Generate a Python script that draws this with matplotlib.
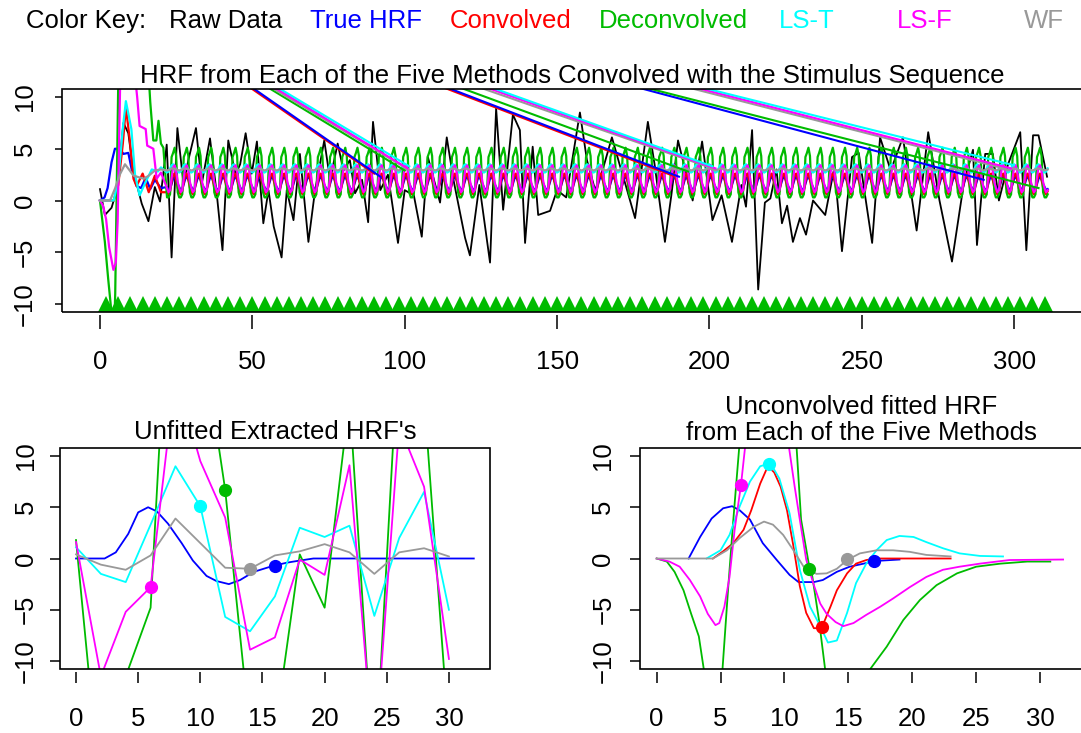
import numpy as np
import matplotlib.pyplot as plt
from matplotlib.patches import Rectangle

plt.rcParams['font.family'] = ['Liberation Sans', 'DejaVu Sans']

FS = 18.5
BLUE, RED, GREEN, CYAN, MAGENTA, GRAY = '#0000FF', '#FF0000', '#00BB00', '#00FFFF', '#FF00FF', '#999999'

# ---- top panel: raw data ----
raw_t = [0, 1.6, 3.8, 5.5, 7.7, 9.3, 10.9, 13.7, 15.9, 18.0,
         19.7, 21.9, 23.5, 25.4, 27.4, 29.0, 31.5, 33.4, 36.1, 38.3,
         40.2, 42.1, 44.5, 46.0, 47.8, 49.8, 51.5, 53.6, 55.3, 57.0,
         59.6, 61.3, 63.5, 65.6, 68.4, 70.5, 73.6, 75.5, 78.0, 79.9,
         82.0, 83.7, 86.0, 88.0, 89.6, 92.0, 94.5, 97.8, 100.0, 103.0,
         105.6, 107.6, 111.6, 113.8, 116.0, 119.8, 121.4, 124.5, 128.0, 130.0,
         132.3, 135.5, 137.8, 139.5, 142.0, 143.8, 147.7, 150.0, 153.0, 157.5,
         159.8, 162.5, 165.0, 168.0, 170.5, 172.5, 175.6, 177.5, 179.8, 182.0,
         185.4, 187.5, 189.7, 192.0, 194.5, 197.6, 201.0, 204.0, 207.4, 210.5,
         212.0, 214.0, 216.0, 218.2, 220.0, 222.0, 223.8, 225.5, 227.4, 229.7,
         231.7, 234.0, 238.0, 241.0, 243.5, 246.8, 249.0, 253.4, 256.0, 259.5,
         263.5, 268.0, 271.8, 275.5, 279.6, 283.5, 286.5, 287.8, 290.5, 293.0,
         295.0, 298.0, 302.0, 304.0, 306.2, 308.0, 310.8]
raw_y = [1.1, -1.4, -0.7, 1.0, 7.5, 6.5, 2.9, -0.3, -2.0, 1.3,
         -0.1, 5.4, -5.5, 7.0, 1.6, 3.9, 7.0, 1.6, 6.0, 0.7,
         -4.8, 5.8, 2.5, 3.5, 6.5, 2.6, 5.7, -2.2, 1.0, -2.5,
         -5.5, 1.0, -1.9, 4.5, -4.0, 0.8, 5.8, 2.0, 5.5, 2.9,
         3.9, 0.7, 2.0, -2.1, 7.6, 1.0, 2.5, -4.1, 1.0, 0.5,
         -3.5, 4.2, -0.2, 6.1, 2.0, -3.6, -5.3, 1.5, -6.0, 8.9,
         -0.9, 8.3, 6.8, -4.1, 5.2, -1.4, -1.0, 1.0, 0.3, 8.5,
         3.9, 1.0, 3.0, 6.1, 3.5, 1.5, -1.7, 2.5, 7.6, 3.5,
         -4.0, 0.5, 5.8, 3.0, 0.0, 5.7, -1.9, 0.5, -4.0, 1.5,
         -0.6, 6.8, -8.6, -0.2, 0.2, 3.0, -2.2, -0.5, -4.0, -1.7,
         -3.3, 0.0, -1.4, 3.2, -4.9, 4.2, 4.6, -4.1, 6.1, 2.9,
         6.1, -2.9, 6.6, 0.0, -5.9, 1.7, 4.9, -4.3, 4.5, 4.5,
         0.0, 3.5, 6.6, -4.8, 6.3, 6.3, 2.3]

# stimulus onsets (green triangles)
stim_onsets = [2, 6, 10, 14, 18, 22, 26, 30, 34, 38, 42, 46, 50, 54, 58, 62,
               66, 70, 74, 78, 82, 86, 90, 94, 98, 102, 106, 110, 114, 118,
               122, 126, 130, 134, 138, 142, 146, 150, 154, 158, 162, 166,
               170, 174, 178, 182, 186, 190, 194, 198, 202, 206, 210, 214,
               218, 222, 226, 230, 234, 238, 242, 246, 250, 254, 258, 262,
               266, 270, 274, 278, 282, 286, 290, 294, 298, 302, 306, 310]

# convolved series: start-up transient, then one response per stimulus
true_start_t = [0, 1.5, 2.5, 3.8, 4.9, 6.5, 7.7, 9.3, 10.4, 12.0, 13.5, 15.0, 16.5, 18.0, 20.0]
true_start_y = [0, 0.3, 1.2, 3.7, 5.0, 5.0, 4.5, 4.6, 3.0, 1.4, 1.2, 2.2, 1.1, 2.0, 1.2]
conv_start_t = [0, 4.5, 6.0, 7.5, 8.5, 9.8, 11.0, 12.0, 14.0, 16.0, 18.0, 20.0]
conv_start_y = [0, 0, 1.5, 5.5, 9.0, 5.8, 2.1, 1.4, 2.6, 0.8, 2.4, 0.8]
deconv_start_t = [0, 1.6, 2.7, 3.8, 4.3, 4.8, 5.0, 6.0, 7.0, 12.0, 16.0, 16.5, 17.5, 18.5, 19.2, 20.0, 20.8]
deconv_start_y = [0, -4.0, -7.6, -10.9, -13.0, -11.0, -9.0, 11.5, 16.0, 18.0, 12.0, 9.5, 5.8, 5.8, 7.7, 5.5, 5.1]
lst_start_t = [0, 4.5, 6.0, 7.5, 8.5, 10.3, 11.5, 13.0, 15.0, 17.0, 19.0, 20.0]
lst_start_y = [0, 0, 2.0, 7.0, 9.6, 6.9, 2.5, 0.5, 1.8, 3.0, 2.8, 3.2]
lsf_start_t = [0, 1.0, 2.0, 3.0, 4.4, 5.2, 5.8, 6.6, 8.0, 10.0, 11.5, 12.2, 13.0, 15.0, 15.5, 17.5, 18.6, 20.0]
lsf_start_y = [0, -0.5, -1.8, -4.5, -6.7, -6.0, -2.0, 11.0, 15.0, 15.0, 12.0, 10.0, 7.2, 6.9, 5.3, 5.0, 2.1, 2.7]
wf_start_t = [0, 3.3, 5.0, 6.5, 8.2, 9.5, 11.0, 14.4, 16.0, 18.0, 20.0]
wf_start_y = [0, 0, 1.2, 2.5, 3.5, 3.0, 2.4, 2.1, 2.4, 2.9, 3.0]

cycle_phase = [0, 0.5, 1.0, 1.5, 2.0, 2.5, 3.0, 3.5]
true_cycle = [1.3, 1.0, 1.1, 1.6, 2.1, 2.3, 2.0, 1.6]
conv_cycle = [0.8, 0.6, 0.9, 1.8, 2.5, 2.6, 2.0, 1.2]
deconv_cycle = [0.3, 0.3, 0.6, 4.2, 4.6, 5.1, 4.3, 0.8]
lst_cycle = [2.7, 2.8, 3.1, 3.4, 3.5, 3.3, 3.0, 2.8]
lsf_cycle = [1.2, 0.8, 1.0, 2.2, 3.2, 3.4, 2.8, 1.8]
wf_cycle = [2.9, 2.95, 3.0, 3.1, 3.1, 3.05, 3.0, 2.95]
band_end = 311

# stray straight segments: where each crosses the top edge, and where it lands
true_wrap_cross, true_wrap_end_t, true_wrap_end_y = [50.5, 114.9, 178.0], [92, 190, 290], [2.3, 2.3, 2.0]
conv_wrap_cross, conv_wrap_end_t, conv_wrap_end_y = [49.8, 113.8], [90, 188], [2.6, 2.4]
deconv_wrap_cross, deconv_wrap_end_t, deconv_wrap_end_y = [55.8, 119.2, 180.5], [100, 193, 308], [2.9, 2.8, 1.2]
lst_wrap_cross, lst_wrap_end_t, lst_wrap_end_y = [59.0, 129.6, 199.2], [101.5, 201, 300], [3.3, 3.3, 3.4]
lsf_wrap_cross, lsf_wrap_end_t, lsf_wrap_end_y = [57.9, 128.0, 197.0], [101, 202, 299], [3.1, 3.1, 3.1]
wf_wrap_cross, wf_wrap_end_t, wf_wrap_end_y = [56.9, 125.8, 194.6], [100, 202, 298], [3.2, 3.0, 3.0]

# ---- bottom left: unfitted extracted HRFs ----
unf_t = [0, 2, 4, 6, 8, 10, 12, 14, 16, 18, 20, 22, 24, 26, 28, 30]
unf_deconv = [1.8, -23.4, -11.5, -4.8, 40, 23, 6.7, -17, -17, 0.4, -4.8, 15.6, -22, 22, 15.8, -17.4]
unf_lst = [1.1, -1.5, -2.3, 3.3, 9.0, 5.1, -5.7, -7.1, -3.7, 3.0, 2.1, 3.2, -5.6, 2.0, 6.5, -5.0]
unf_lsf = [1.6, -11.5, -5.2, -2.8, 18, 9.5, 4.0, -8.9, -7.7, -0.1, -1.6, 9.1, -20, 13, 7.0, -9.8]
unf_wf = [0.4, -0.6, -1.1, 0.3, 3.9, 1.5, -0.9, -1.0, 0.3, 0.7, 1.4, 0.6, -1.5, 0.6, 1.0, 0.2]
true_t = [0, 2.3, 3.2, 4.2, 5.0, 5.8, 6.5, 7.4, 8.5, 9.4, 10.5, 11.3, 12.3, 13.2, 14.3, 15.9, 17.0, 18.0, 19.1, 32]
true_y = [0, 0, 0.6, 2.4, 4.5, 5.0, 4.6, 3.4, 1.5, -0.2, -1.7, -2.2, -2.5, -2.1, -1.3, -0.7, -0.4, -0.2, 0, 0]
# marked points (t, y) per method
unf_mark_true = (16, -0.7)
unf_mark_deconv = (12, 6.7)
unf_mark_lst = (10, 5.1)
unf_mark_lsf = (6, -2.8)
unf_mark_wf = (14, -1.0)

# ---- bottom right: fitted HRFs ----
fit_true_t = [2.5, 3.4, 4.3, 5.2, 5.9, 6.5, 7.3, 8.3, 9.4, 10.4, 11.1, 12.3, 13.0, 14.1, 15.1, 16.2, 17.0, 19.0]
fit_true_y = [0, 2.1, 3.9, 4.9, 5.1, 4.7, 3.8, 1.5, -0.15, -1.6, -2.3, -2.3, -2.1, -1.3, -0.8, -0.5, -0.25, -0.1]
fit_conv_t = [4.4, 5.2, 6.0, 6.8, 7.4, 8.1, 8.7, 9.2, 9.7, 10.2, 10.7, 11.2, 11.7, 12.3, 12.9, 13.6, 14.1, 14.9, 15.6, 16.4, 17.2, 23.0]
fit_conv_y = [0, 0.7, 1.5, 2.8, 4.7, 7.3, 9.0, 8.4, 7.0, 4.7, 1.2, -2.7, -5.3, -6.8, -6.8, -4.7, -3.1, -1.45, -0.5, -0.15, 0, 0]
fit_deconv_t = [0, 0.8, 1.4, 2.1, 2.7, 3.3, 3.7, 4.4, 5.0, 5.6, 6.0, 6.6, 7.5, 8.5, 9.5, 10.5, 10.9,
                11.3, 11.9, 12.1, 12.7, 13.2, 14.2, 15.2, 16.3, 16.7, 18.0, 19.3, 20.6, 21.9, 23.5,
                25.0, 26.9, 29.0, 30.8]
fit_deconv_y = [0, -0.3, -1.3, -3.1, -5.4, -7.6, -10.9, -15.5, -13.5, -2.8, 3.8, 13, 22, 25, 22, 15, 11.8,
                3.8, -0.5, -1.1, -6.0, -11.0, -17, -16, -12, -10.8, -8.6, -6.0, -4.05, -2.6, -1.45,
                -0.8, -0.5, -0.3, -0.3]
fit_lst_t = [3.9, 5.0, 5.7, 6.5, 7.3, 8.1, 8.9, 9.6, 10.4, 11.2, 12.0, 12.8, 13.4, 14.1, 14.9, 15.6,
             16.4, 17.2, 18.0, 19.0, 20.1, 21.1, 22.4, 23.7, 25.3, 27.1]
fit_lst_y = [0, 0.8, 2.3, 5.1, 7.5, 9.0, 9.3, 7.8, 4.4, -1.1, -4.7, -6.6, -8.2, -8.0, -5.3, -2.4,
             -0.5, 0.8, 1.8, 2.2, 2.1, 1.6, 1.0, 0.5, 0.25, 0.2]
fit_lsf_t = [0, 1.0, 1.8, 2.6, 3.4, 4.0, 4.6, 4.9, 5.3, 5.7, 6.1, 6.6, 7.0, 7.5, 8.5, 9.5, 10.3, 10.8,
             11.2, 11.7, 12.3, 12.8, 13.3, 14.0, 14.6, 15.4, 16.4, 17.5, 18.5, 19.8, 21.1, 22.4,
             23.7, 25.3, 27.6, 31.8]
fit_lsf_y = [0, -0.3, -0.8, -2.1, -3.7, -5.4, -6.5, -6.3, -4.7, -1.8, 2.8, 7.2, 11.8, 15.5, 19.0, 16.5,
             11.3, 7.0, 3.8, -0.1, -2.6, -4.4, -5.4, -6.2, -6.6, -6.3, -5.5, -4.7, -3.9, -2.8, -1.8,
             -1.1, -0.8, -0.5, -0.15, -0.1]
fit_wf_t = [0, 4.4, 5.5, 6.5, 7.6, 8.4, 9.1, 9.9, 10.7, 11.5, 12.5, 13.3, 14.1, 14.9, 15.9, 17.2, 18.5, 19.8, 21.1, 23.0]
fit_wf_y = [0, 0, 0.8, 2.0, 3.1, 3.6, 3.3, 2.3, 0.8, -0.8, -1.5, -1.45, -1.0, -0.15, 0.5, 0.8, 0.8, 0.65, 0.35, 0.2]
fit_mark_true = (17.0, -0.25)
fit_mark_conv = (12.9, -6.7)
fit_mark_deconv = (11.95, -1.05)
fit_mark_lst = (8.8, 9.2)
fit_mark_lsf = (6.6, 7.2)
fit_mark_wf = (14.9, 0.0)

key_labels = ['Color Key:', 'Raw Data', 'True HRF', 'Convolved', 'Deconvolved', 'LS-T', 'LS-F', 'WF']
key_colors = ['black', 'black', BLUE, RED, GREEN, CYAN, MAGENTA, GRAY]
key_x = [26, 169, 310, 450, 599, 779, 897, 1024]


def band(start_t, start_y, cycle):
    t, y = list(start_t), list(start_y)
    for onset in stim_onsets:
        if onset <= start_t[-1]:
            continue
        for p, v in zip(cycle_phase, cycle):
            if onset + p <= band_end:
                t.append(onset + p)
                y.append(v)
    return t, y


def draw_wraps(ax, cross, end_t, end_y, color, top=10.8, start=14.0):
    for c, et, ey in zip(cross, end_t, end_y):
        slope = (ey - top) / (et - c)
        t0 = c + (start - top) / slope
        ax.plot([t0, et], [start, ey], color=color, lw=1.5)


def style_axes(ax, xticks, xlen, ylen, xpad, ypad):
    for s in ax.spines.values():
        s.set_color('none')
    ax.spines['bottom'].set_position(('outward', 2))
    ax.add_patch(Rectangle((0, 0), 1, 1, transform=ax.transAxes, fill=False,
                           lw=1.2, ec='black', clip_on=False, zorder=6))
    ax.set_xticks(xticks)
    ax.set_yticks([-10, -5, 0, 5, 10])
    ax.set_ylim(-10.8, 10.8)
    ax.tick_params(axis='x', length=xlen, width=1.1, pad=xpad, labelsize=FS)
    ax.tick_params(axis='y', length=ylen, width=1.1, pad=ypad, labelsize=FS, labelrotation=90)
    for lab in ax.get_yticklabels():
        lab.set_va('center')


W, H = 1081, 733
fig = plt.figure(figsize=(W / 100, H / 100), dpi=100)
ax_top = fig.add_axes([62.2 / W, 1 - 312.3 / H, 1020.2 / W, 223.6 / H])
ax_bl = fig.add_axes([60.1 / W, 1 - 669.2 / H, 429.6 / W, 221.4 / H])
ax_br = fig.add_axes([640.3 / W, 1 - 669.2 / H, 441.7 / W, 221.4 / H])

# top panel
ax_top.plot(raw_t, raw_y, color='black', lw=1.3)
for st, sy, cyc, col in [(true_start_t, true_start_y, true_cycle, BLUE),
                         (conv_start_t, conv_start_y, conv_cycle, RED),
                         (deconv_start_t, deconv_start_y, deconv_cycle, GREEN),
                         (lst_start_t, lst_start_y, lst_cycle, CYAN),
                         (lsf_start_t, lsf_start_y, lsf_cycle, MAGENTA),
                         (wf_start_t, wf_start_y, wf_cycle, GRAY)]:
    bt, by = band(st, sy, cyc)
    ax_top.plot(bt, by, color=col, lw=1.6)
draw_wraps(ax_top, conv_wrap_cross, conv_wrap_end_t, conv_wrap_end_y, RED)
draw_wraps(ax_top, true_wrap_cross, true_wrap_end_t, true_wrap_end_y, BLUE)
draw_wraps(ax_top, deconv_wrap_cross, deconv_wrap_end_t, deconv_wrap_end_y, GREEN)
draw_wraps(ax_top, wf_wrap_cross, wf_wrap_end_t, wf_wrap_end_y, GRAY)
draw_wraps(ax_top, lsf_wrap_cross, lsf_wrap_end_t, lsf_wrap_end_y, MAGENTA)
draw_wraps(ax_top, lst_wrap_cross, lst_wrap_end_t, lst_wrap_end_y, CYAN)
ax_top.plot(stim_onsets, [-10] * len(stim_onsets), '^', color=GREEN, ms=11.5, mew=0)
ax_top.set_xlim(-12.4, 322.4)
style_axes(ax_top, [0, 50, 100, 150, 200, 250, 300], 10, 5, 15, 13)

# bottom left
ax_bl.plot(true_t, true_y, color=BLUE, lw=1.3)
ax_bl.plot(unf_t, unf_deconv, color=GREEN, lw=1.3)
ax_bl.plot(unf_t, unf_lst, color=CYAN, lw=1.3)
ax_bl.plot(unf_t, unf_lsf, color=MAGENTA, lw=1.3)
ax_bl.plot(unf_t, unf_wf, color=GRAY, lw=1.3)
for (mt, my), col in [(unf_mark_true, BLUE), (unf_mark_deconv, GREEN), (unf_mark_lst, CYAN),
                      (unf_mark_lsf, MAGENTA), (unf_mark_wf, GRAY)]:
    ax_bl.plot(mt, my, 'o', color=col, ms=8.5, zorder=5)
ax_bl.set_xlim(-1.28, 33.28)
style_axes(ax_bl, [0, 5, 10, 15, 20, 25, 30], 8, 7, 17, 9)

# bottom right
ax_br.plot(fit_true_t, fit_true_y, color=BLUE, lw=1.3)
ax_br.plot(fit_conv_t, fit_conv_y, color=RED, lw=1.3)
ax_br.plot(fit_deconv_t, fit_deconv_y, color=GREEN, lw=1.3)
ax_br.plot(fit_lst_t, fit_lst_y, color=CYAN, lw=1.3)
ax_br.plot(fit_lsf_t, fit_lsf_y, color=MAGENTA, lw=1.3)
ax_br.plot(fit_wf_t, fit_wf_y, color=GRAY, lw=1.3)
for (mt, my), col in [(fit_mark_true, BLUE), (fit_mark_conv, RED), (fit_mark_deconv, GREEN),
                      (fit_mark_lst, CYAN), (fit_mark_lsf, MAGENTA), (fit_mark_wf, GRAY)]:
    ax_br.plot(mt, my, 'o', color=col, ms=8.5, zorder=5)
ax_br.set_xlim(-1.28, 33.28)
style_axes(ax_br, [0, 5, 10, 15, 20, 25, 30], 8, 7, 17, 11)

# titles and colour key
fig.text(572 / W, 1 - 83 / H, 'HRF from Each of the Five Methods Convolved with the Stimulus Sequence',
         ha='center', va='baseline', fontsize=FS)
fig.text(275 / W, 1 - 439 / H, "Unfitted Extracted HRF's", ha='center', va='baseline', fontsize=FS)
fig.text(861 / W, 1 - 414 / H, 'Unconvolved fitted HRF', ha='center', va='baseline', fontsize=FS)
fig.text(861 / W, 1 - 440 / H, 'from Each of the Five Methods', ha='center', va='baseline', fontsize=FS)
for lab, col, x in zip(key_labels, key_colors, key_x):
    fig.text(x / W, 1 - 28 / H, lab, color=col, ha='left', va='baseline', fontsize=FS)

fig.savefig('out.png', dpi=100)
